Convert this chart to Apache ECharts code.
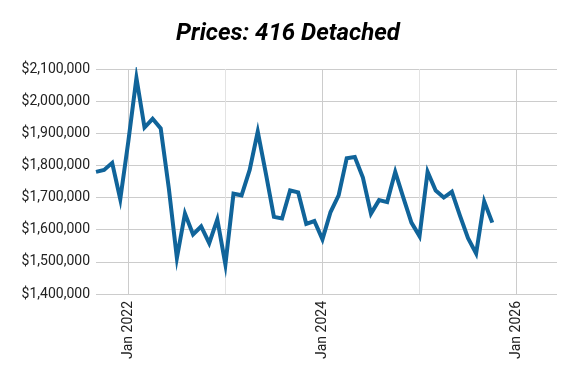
<!DOCTYPE html>
<html>
<head>
<meta charset="utf-8">
<script src="https://cdn.jsdelivr.net/npm/echarts@6/dist/echarts.min.js"></script>
<style>
html,body{margin:0;padding:0;background:#fff;}
#chart{width:576px;height:379px;}
</style>
</head>
<body>
<div id="chart"></div>
<script>
const months = ['2021-09','2021-10','2021-11','2021-12',
  '2022-01','2022-02','2022-03','2022-04','2022-05','2022-06','2022-07','2022-08','2022-09','2022-10','2022-11','2022-12',
  '2023-01','2023-02','2023-03','2023-04','2023-05','2023-06','2023-07','2023-08','2023-09','2023-10','2023-11','2023-12',
  '2024-01','2024-02','2024-03','2024-04','2024-05','2024-06','2024-07','2024-08','2024-09','2024-10','2024-11','2024-12',
  '2025-01','2025-02','2025-03','2025-04','2025-05','2025-06','2025-07','2025-08','2025-09','2025-10'];
const prices = [1780000,1786000,1808000,1695000,
  1875000,2072000,1918000,1945000,1915000,1730000,1512000,1650000,1585000,1610000,1558000,1632000,
  1492000,1712000,1707000,1786000,1905000,1775000,1640000,1635000,1722000,1716000,1618000,1627000,
  1570000,1655000,1707000,1822000,1826000,1762000,1650000,1692000,1686000,1780000,1700000,1622000,
  1580000,1780000,1722000,1700000,1718000,1644000,1574000,1526000,1688000,1622000];
const xTickLabels = ['Jan 2022','Jan 2024','Jan 2026'];
const yTicks = [1400000,1500000,1600000,1700000,1800000,1900000,2000000,2100000];
const xStart = '2021-09';
const xEnd = '2026-06';

function monthIndex(s){const p=s.split('-');return (+p[0]-2000)*12+(+p[1]-1);}
const labelMap = {};
xTickLabels.forEach(l=>{const y=+l.split(' ')[1];labelMap[(y-2000)*12]=l;});

const chart = echarts.init(document.getElementById('chart'));
chart.setOption({
  animation:false,
  backgroundColor:'#ffffff',
  title:{text:'Prices: 416 Detached',left:'center',top:17,
    textStyle:{fontFamily:'Roboto',fontSize:24,fontWeight:'bold',fontStyle:'italic',color:'#000'}},
  grid:{left:96,right:19,top:69,bottom:85},
  xAxis:{type:'value',min:monthIndex(xStart),max:monthIndex(xEnd),interval:4,
    axisLine:{show:false},axisTick:{show:false},
    axisLabel:{rotate:90,margin:7,fontFamily:'Roboto',fontSize:14,color:'#222',
      showMinLabel:true,showMaxLabel:true,
      formatter:v=>labelMap[v]||''},
    splitLine:{show:true,showMinLine:true,showMaxLine:true,
      lineStyle:{width:1,color:['rgba(0,0,0,0)','#cccccc','rgba(0,0,0,0)','rgba(0,0,0,0)','#e3e3e3','rgba(0,0,0,0)']}}},
  yAxis:{type:'value',min:yTicks[0],max:yTicks[yTicks.length-1],interval:100000,
    axisLine:{show:false},axisTick:{show:false},
    axisLabel:{margin:6,fontFamily:'Roboto',fontSize:14,color:'#222',
      formatter:v=>'$'+v.toLocaleString('en-US')},
    splitLine:{lineStyle:{color:'#cccccc',width:1}}},
  series:[{type:'line',data:months.map((m,i)=>[monthIndex(m),prices[i]]),
    showSymbol:false,symbol:'none',
    lineStyle:{color:'#10649a',width:4,join:'miter'}}]
});
</script>
</body>
</html>
